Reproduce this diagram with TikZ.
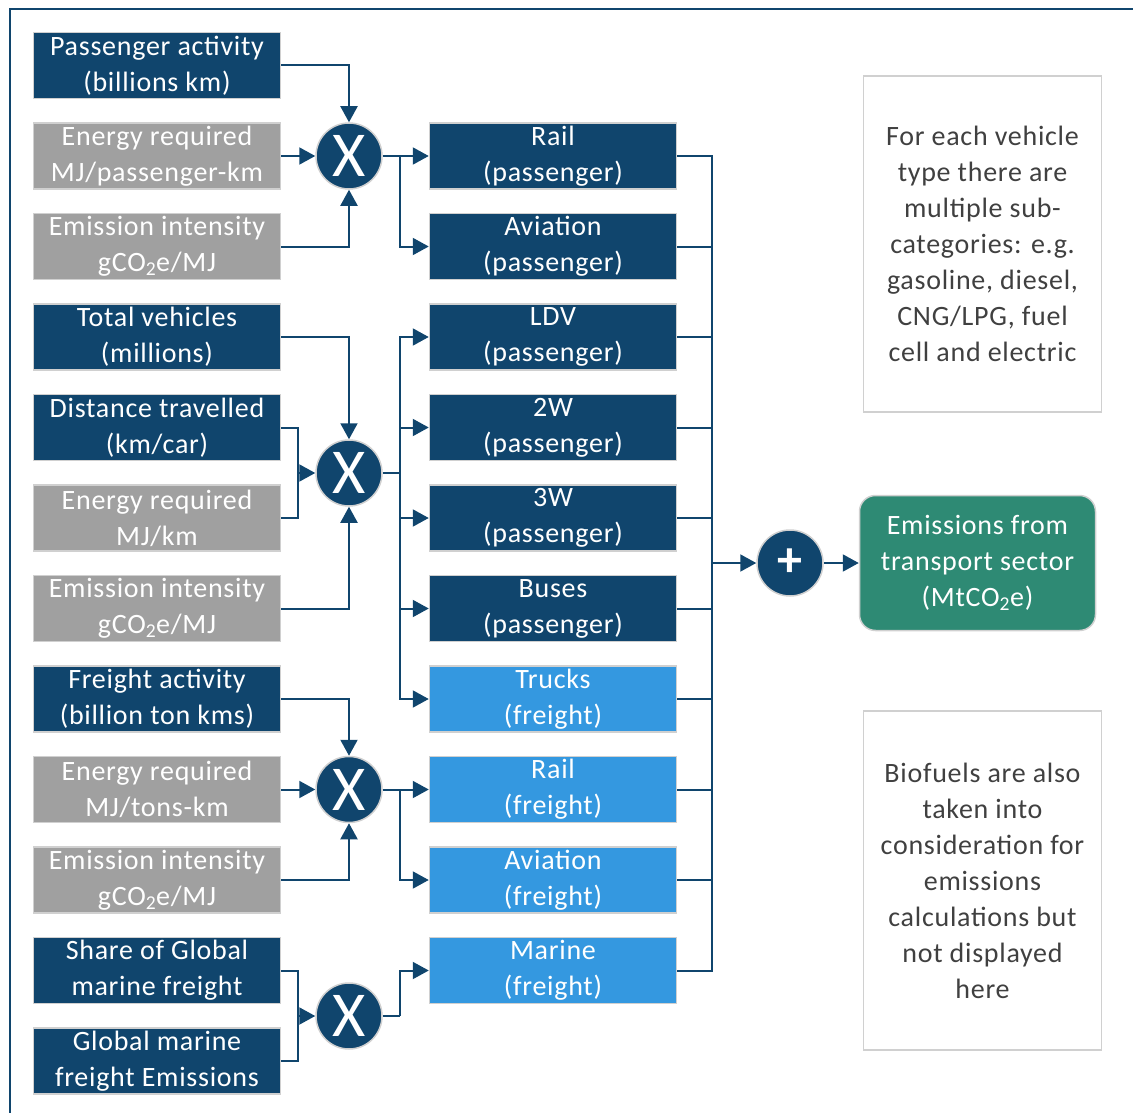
\documentclass[tikz,border=0pt]{standalone}
\usepackage{fontspec}
\setmainfont{Carlito}[LetterSpace=2.6]
\usepackage{tikz}
\usetikzlibrary{arrows.meta}
\definecolor{dblue}{RGB}{16,69,109}
\definecolor{lblue}{RGB}{52,152,224}
\definecolor{boxgray}{RGB}{160,160,160}
\definecolor{outgreen}{RGB}{46,138,116}
\definecolor{rim}{RGB}{208,208,208}
\definecolor{notetext}{RGB}{64,64,64}

\begin{document}
\begin{tikzpicture}[x=1pt,y=-1pt,
	box/.style={draw=rim,line width=1.5pt,minimum width=247pt,minimum height=66pt,inner sep=0pt,
		text=white,align=center,font=\fontsize{28}{36}\selectfont},
	inbox/.style={box,fill=dblue},
	graybox/.style={box,fill=boxgray},
	midbox/.style={box,fill=dblue},
	lightbox/.style={box,fill=lblue},
	opcirc/.style={circle,draw=rim,line width=1.5pt,fill=dblue,minimum size=66pt,inner sep=0pt,text=white},
	note/.style={draw=rim,line width=1.5pt,minimum width=238pt,inner sep=0pt,text=notetext,
		align=center,font=\fontsize{28}{36}\selectfont},
	line/.style={draw=dblue,line width=2pt},
	conn/.style={line,-{Triangle[length=16pt,width=17pt]}}]
		\useasboundingbox (0,0) rectangle (1133,1113);
		\draw[dblue,line width=2pt] (10,1113) -- (10,9) -- (1133,9);
		% inputs
		\node[inbox] (pact) at (157,65.5) {Passenger activity\\(billions km)};
		\node[graybox] (ereq1) at (157,156) {Energy required\\MJ/passenger-km};
		\node[graybox] (eint1) at (157,246.5) {Emission intensity\\gCO\textsubscript{2}e/MJ};
		\node[inbox] (tveh) at (157,337) {Total vehicles\\(millions)};
		\node[inbox] (dist) at (157,427.5) {Distance travelled\\(km/car)};
		\node[graybox] (ereq2) at (157,518) {Energy required\\MJ/km};
		\node[graybox] (eint2) at (157,608.5) {Emission intensity\\gCO\textsubscript{2}e/MJ};
		\node[inbox] (fact) at (157,699) {Freight activity\\(billion ton kms)};
		\node[graybox] (ereq3) at (157,789.5) {Energy required\\MJ/tons-km};
		\node[graybox] (eint3) at (157,880) {Emission intensity\\gCO\textsubscript{2}e/MJ};
		\node[inbox] (share) at (157,970.5) {Share of Global\\marine freight};
		\node[inbox] (gmar) at (157,1061) {Global marine\\freight Emissions};
		% operators
		\node[opcirc,font=\fontsize{64}{64}\selectfont] (mul1) at (349,156) {X};
		\node[opcirc,font=\fontsize{64}{64}\selectfont] (mul2) at (349,473) {X};
		\node[opcirc,font=\fontsize{64}{64}\selectfont] (mul3) at (349,789.5) {X};
		\node[opcirc,font=\fontsize{64}{64}\selectfont] (mul4) at (349,1016) {X};
		\node[opcirc,font=\fontsize{50}{50}\selectfont\bfseries] (sum) at (790,563) {+};
		% vehicle types
		\node[midbox] (railp) at (553,156) {Rail\\(passenger)};
		\node[midbox] (avp) at (553,246.5) {Aviation\\(passenger)};
		\node[midbox] (ldv) at (553,337) {LDV\\(passenger)};
		\node[midbox] (tw) at (553,427.5) {2W\\(passenger)};
		\node[midbox] (thw) at (553,518) {3W\\(passenger)};
		\node[midbox] (buses) at (553,608.5) {Buses\\(passenger)};
		\node[lightbox] (truck) at (553,699) {Trucks\\(freight)};
		\node[lightbox] (railf) at (553,789.5) {Rail\\(freight)};
		\node[lightbox] (avf) at (553,880) {Aviation\\(freight)};
		\node[lightbox] (marine) at (553,970.5) {Marine\\(freight)};
		% output and notes
		\node[box,fill=outgreen,rounded corners=16pt,minimum width=236pt,minimum height=135pt] (out) at (977.5,563) {Emissions from\\transport sector\\(MtCO\textsubscript{2}e)};
		\node[note,minimum height=336pt] (noteA) at (982.5,244) {For each vehicle\\type there are\\multiple sub-\\categories: e.g.\\gasoline, diesel,\\CNG/LPG, fuel\\cell and electric};
		\node[note,minimum height=339pt] (noteB) at (982.5,880.5) {Biofuels are also\\taken into\\consideration for\\emissions\\calculations but\\not displayed\\here};
		\coordinate (s1) at (400,156);
		\coordinate (j2) at (298,473);
		\coordinate (s2) at (400,473);
		\coordinate (s3) at (400,789.5);
		\coordinate (j4) at (298,1016);
		\coordinate (s4) at (400,1016);
		\coordinate (rb) at (712,563);
		% passenger activity
		\draw[conn] (pact.east) -| (mul1.north);
		\draw[conn] (ereq1.east) -- (mul1.west);
		\draw[conn] (eint1.east) -| (mul1.south);
		\draw[conn] (mul1.east) -- (railp.west);
		\draw[conn] (s1) |- (avp.west);
		% vehicles
		\draw[conn] (tveh.east) -| (mul2.north);
		\draw[line] (dist.east) -| (j2);
		\draw[line] (ereq2.east) -| (j2);
		\draw[conn] (j2) -- (mul2.west);
		\draw[conn] (eint2.east) -| (mul2.south);
		\draw[line] (mul2.east) -- (s2);
		\foreach \m in {ldv,tw,thw,buses,truck}{
			\draw[conn] (s2) |- (\m.west);
		}
		% freight
		\draw[conn] (fact.east) -| (mul3.north);
		\draw[conn] (ereq3.east) -- (mul3.west);
		\draw[conn] (eint3.east) -| (mul3.south);
		\draw[conn] (mul3.east) -- (railf.west);
		\draw[conn] (s3) |- (avf.west);
		% marine
		\draw[line] (share.east) -| (j4);
		\draw[line] (gmar.east) -| (j4);
		\draw[conn] (j4) -- (mul4.west);
		\draw[line] (mul4.east) -- (s4);
		\draw[conn] (s4) |- (marine.west);
		% sum
		\foreach \m in {railp,avp,ldv,tw,thw,buses,truck,railf,avf,marine}{
			\draw[line] (\m.east) -| (rb);
		}
		\draw[conn] (rb) -- (sum.west);
		\draw[conn] (sum.east) -- (out.west);
\end{tikzpicture}
\end{document}
